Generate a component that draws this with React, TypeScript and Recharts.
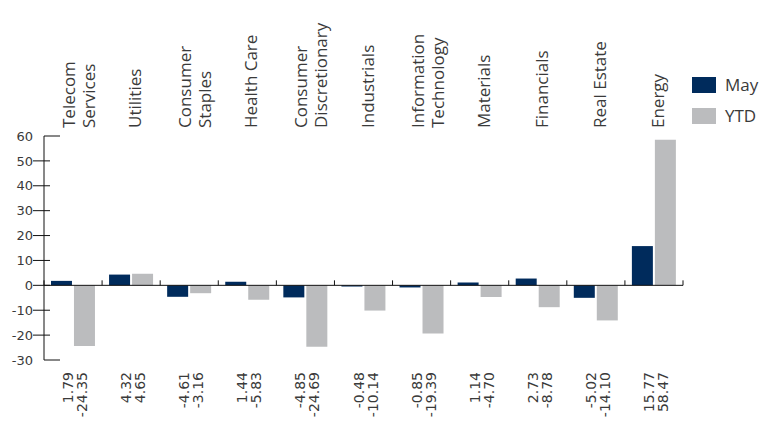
import React from "react";
import { BarChart, Bar, XAxis, YAxis, ReferenceLine, ReferenceDot } from "recharts";

const categoryLines: string[][] = [
  ["Telecom", "Services"],
  ["Utilities"],
  ["Consumer", "Staples"],
  ["Health Care"],
  ["Consumer", "Discretionary"],
  ["Industrials"],
  ["Information", "Technology"],
  ["Materials"],
  ["Financials"],
  ["Real Estate"],
  ["Energy"],
];
const categories = categoryLines.map((l) => l.join(" "));
const mayValues = [1.79, 4.32, -4.61, 1.44, -4.85, -0.48, -0.85, 1.14, 2.73, -5.02, 15.77];
const ytdValues = [-24.35, 4.65, -3.16, -5.83, -24.69, -10.14, -19.39, -4.7, -8.78, -14.1, 58.47];
const yTicks = [-30, -20, -10, 0, 10, 20, 30, 40, 50, 60];
const seriesNames = ["May", "YTD"];
const seriesColors = ["#002B5C", "#BBBCBE"];

const data = categories.map((name, i) => ({ name, May: mayValues[i], YTD: ytdValues[i] }));

const W = 770;
const H = 423;
const margin = { top: 6, right: 87, bottom: 3, left: 4 };
const yAxisWidth = 40;
const plotW = W - margin.left - margin.right - yAxisWidth;
const band = plotW / categories.length;

const catFont = "'Open Sans', 'Noto Sans', sans-serif";
const numFont = "'DejaVu Sans', sans-serif";
const textColor = "#3a3a3a";

const CatTick = (props: any) => {
  const { x, y, payload } = props;
  const lines = categoryLines[payload.index] || [payload.value];
  const offsets = lines.length === 1 ? [10] : [2, 22];
  return (
    <g>
      {lines.map((ln, k) => (
        <text
          key={k}
          transform={`translate(${x + offsets[k]}, ${y - 8}) rotate(-90)`}
          textAnchor="start"
          fontFamily={catFont}
          fontSize={17}
          fill={textColor}
        >
          {ln}
        </text>
      ))}
    </g>
  );
};

const ValTick = (props: any) => {
  const { x, y, payload } = props;
  const i = payload.index;
  const vals = [mayValues[i].toFixed(2), ytdValues[i].toFixed(2)];
  const offsets = [0, 14];
  return (
    <g>
      {vals.map((v, k) => (
        <text
          key={k}
          transform={`translate(${x + offsets[k]}, ${y + 12}) rotate(-90)`}
          textAnchor="end"
          fontFamily={numFont}
          fontSize={14}
          fill={textColor}
        >
          {v}
        </text>
      ))}
    </g>
  );
};

const YTick = (props: any) => {
  const { x, y, payload } = props;
  const v = payload.value;
  const isEnd = v === yTicks[0] || v === yTicks[yTicks.length - 1];
  return (
    <g>
      <text
        x={x - 11}
        y={y}
        dy="0.36em"
        textAnchor="end"
        fontFamily={numFont}
        fontSize={13}
        fill={textColor}
      >
        {v}
      </text>
      {isEnd ? (
        <line x1={x} x2={x + 16} y1={y} y2={y} stroke="#111" strokeWidth={1} />
      ) : (
        <line x1={x - 11} x2={x + 6} y1={y} y2={y} stroke="#111" strokeWidth={1} />
      )}
    </g>
  );
};

const BoundaryTick = (last: boolean) => (props: any) => {
  const { cx, cy } = props;
  if (cx == null || cy == null) return <g />;
  const xs = [cx - band / 2];
  if (last) xs.push(cx + band / 2);
  return (
    <g>
      {xs.map((xx, k) => (
        <line key={k} x1={xx} x2={xx} y1={cy - 5} y2={cy} stroke="#111" strokeWidth={1} />
      ))}
    </g>
  );
};

const LegendBox = () => (
  <div style={{ position: "absolute", left: 692, top: 77 }}>
    {seriesNames.map((n, i) => (
      <div
        key={n}
        style={{ display: "flex", alignItems: "center", height: 16, marginBottom: i === 0 ? 15 : 0 }}
      >
        <div style={{ width: 24, height: 16, background: seriesColors[i] }} />
        <span
          style={{
            marginLeft: 9,
            fontFamily: catFont,
            fontSize: 17,
            color: textColor,
            lineHeight: "16px",
          }}
        >
          {n}
        </span>
      </div>
    ))}
  </div>
);

export default function App() {
  return (
    <div style={{ position: "absolute", left: 0, top: 0, width: W, height: H, background: "#fff" }}>
      <BarChart width={W} height={H} data={data} margin={margin} barCategoryGap="12%" barGap={2}>
        <XAxis
          xAxisId="top"
          orientation="top"
          dataKey="name"
          height={130}
          tick={<CatTick />}
          tickLine={false}
          axisLine={false}
          tickSize={0}
          tickMargin={0}
          interval={0}
        />
        <XAxis
          xAxisId="bottom"
          orientation="bottom"
          dataKey="name"
          height={60}
          tick={<ValTick />}
          tickLine={false}
          axisLine={false}
          tickSize={0}
          tickMargin={0}
          interval={0}
        />
        <YAxis
          width={yAxisWidth}
          domain={[yTicks[0], yTicks[yTicks.length - 1]]}
          ticks={yTicks}
          interval={0}
          tick={<YTick />}
          tickLine={false}
          tickSize={0}
          tickMargin={0}
          axisLine={{ stroke: "#111", strokeWidth: 1 }}
        />
        <ReferenceLine xAxisId="top" y={0} stroke="#111" strokeWidth={1} />
        {categories.map((c, i) => (
          <ReferenceDot
            key={c}
            xAxisId="top"
            x={c}
            y={0}
            r={0}
            shape={BoundaryTick(i === categories.length - 1)}
          />
        ))}
        <Bar xAxisId="top" dataKey="May" fill={seriesColors[0]} isAnimationActive={false} />
        <Bar xAxisId="top" dataKey="YTD" fill={seriesColors[1]} isAnimationActive={false} />
      </BarChart>
      <LegendBox />
    </div>
  );
}
